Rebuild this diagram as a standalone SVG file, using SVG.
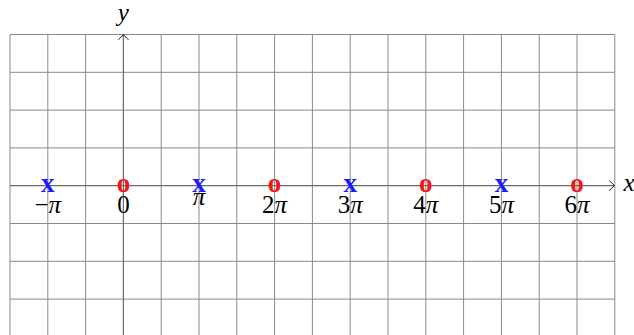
<svg xmlns="http://www.w3.org/2000/svg" width="634" height="335" viewBox="0 0 634 335">
<style>
.grid line{stroke:#8a8a8a;stroke-width:1}
.axis{stroke:#6a6a6a;stroke-width:1.1;fill:none}
.head{stroke:#222;stroke-width:1;fill:none;stroke-linecap:round;stroke-linejoin:round}
.lbl{font-family:"Liberation Serif","DejaVu Serif",serif;font-size:25px;fill:#000;text-anchor:middle}
.it{font-style:italic}
.mk{font-family:"Liberation Serif","DejaVu Serif",serif;font-size:27px;font-weight:bold;text-anchor:middle}
.bx{fill:#1a1aff}
.ro{fill:#f01818}
</style>
<rect width="634" height="335" fill="#fff"/>
<g id="grid" class="grid">
<line x1="10" y1="34.5" x2="10" y2="337"/>
<line x1="47.8" y1="34.5" x2="47.8" y2="337"/>
<line x1="85.6" y1="34.5" x2="85.6" y2="337"/>
<line x1="123.4" y1="34.5" x2="123.4" y2="337"/>
<line x1="161.2" y1="34.5" x2="161.2" y2="337"/>
<line x1="199" y1="34.5" x2="199" y2="337"/>
<line x1="236.8" y1="34.5" x2="236.8" y2="337"/>
<line x1="274.6" y1="34.5" x2="274.6" y2="337"/>
<line x1="312.4" y1="34.5" x2="312.4" y2="337"/>
<line x1="350.2" y1="34.5" x2="350.2" y2="337"/>
<line x1="388" y1="34.5" x2="388" y2="337"/>
<line x1="425.8" y1="34.5" x2="425.8" y2="337"/>
<line x1="463.6" y1="34.5" x2="463.6" y2="337"/>
<line x1="501.4" y1="34.5" x2="501.4" y2="337"/>
<line x1="539.2" y1="34.5" x2="539.2" y2="337"/>
<line x1="577" y1="34.5" x2="577" y2="337"/>
<line x1="614.8" y1="34.5" x2="614.8" y2="337"/>
<line x1="10" y1="34.5" x2="614.8" y2="34.5"/>
<line x1="10" y1="72.3" x2="614.8" y2="72.3"/>
<line x1="10" y1="110.1" x2="614.8" y2="110.1"/>
<line x1="10" y1="147.9" x2="614.8" y2="147.9"/>
<line x1="10" y1="223.5" x2="614.8" y2="223.5"/>
<line x1="10" y1="261.3" x2="614.8" y2="261.3"/>
<line x1="10" y1="299.1" x2="614.8" y2="299.1"/>
</g>
<g id="axes">
<line class="axis" x1="10" y1="185.6" x2="614" y2="185.6"/>
<line class="axis" x1="123.4" y1="337" x2="123.4" y2="35"/>
<polyline class="head" points="609.5,180.8 614.5,185.6 609.5,190.4"/>
<polyline class="head" points="118.6,39.6 123.4,34.6 128.2,39.6"/>
<text class="lbl it" x="629" y="191">x</text>
<text class="lbl it" x="123.4" y="21">y</text>
</g>
<g id="markers">
<text class="mk bx" x="47.8" y="191.5">x</text>
<text class="mk ro" x="123.4" y="191.5">o</text>
<text class="mk bx" x="199" y="191.5">x</text>
<text class="mk ro" x="274.6" y="191.5">o</text>
<text class="mk bx" x="350.2" y="191.5">x</text>
<text class="mk ro" x="425.8" y="191.5">o</text>
<text class="mk bx" x="501.4" y="191.5">x</text>
<text class="mk ro" x="577" y="191.5">o</text>
</g>
<g id="labels">
<text class="lbl" x="47.8" y="213">−<tspan class="it">π</tspan></text>
<text class="lbl" x="123.4" y="213">0</text>
<text class="lbl it" x="199" y="205">π</text>
<text class="lbl" x="274.6" y="213">2<tspan class="it">π</tspan></text>
<text class="lbl" x="350.2" y="213">3<tspan class="it">π</tspan></text>
<text class="lbl" x="425.8" y="213">4<tspan class="it">π</tspan></text>
<text class="lbl" x="501.4" y="213">5<tspan class="it">π</tspan></text>
<text class="lbl" x="577" y="213">6<tspan class="it">π</tspan></text>
</g>
</svg>
